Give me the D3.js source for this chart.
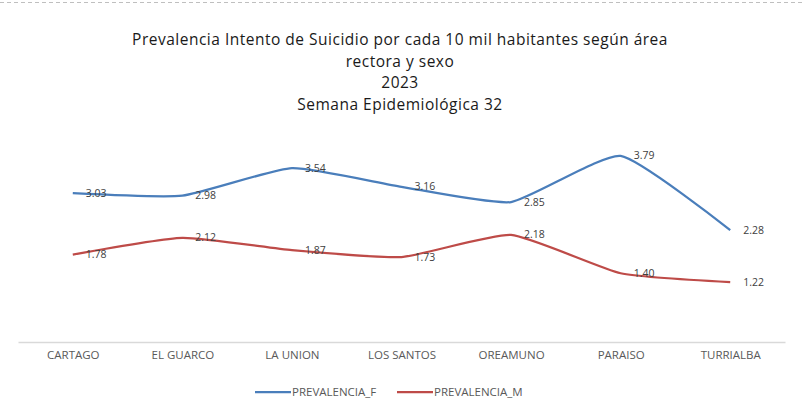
<!DOCTYPE html>
<html>
<head>
<meta charset="utf-8">
<script src="https://cdn.jsdelivr.net/npm/d3@7"></script>
<style>
  body { margin: 0; background: #fff; }
  text { font-family: "Open Sans", Lato, sans-serif; }
</style>
</head>
<body>
<div id="chart"></div>
<script>
// Data
var categories = ['CARTAGO', 'EL GUARCO', 'LA UNION', 'LOS SANTOS', 'OREAMUNO', 'PARAISO', 'TURRIALBA'];
var prevalenciaF = [3.03, 2.98, 3.54, 3.16, 2.85, 3.79, 2.28];
var prevalenciaM = [1.78, 2.12, 1.87, 1.73, 2.18, 1.40, 1.22];
var titleLines = ['Prevalencia Intento de Suicidio por cada 10 mil habitantes según área',
                  'rectora y sexo', '2023', 'Semana Epidemiológica 32'];

var width = 803, height = 416;
var margin = {top: 121, right: 18, bottom: 74, left: 18};

var series = [
    {name: 'PREVALENCIA_F', values: prevalenciaF, color: '#4a7ebb'},
    {name: 'PREVALENCIA_M', values: prevalenciaM, color: '#be4b48'}
];

var svg = d3.select('#chart').append('svg')
    .attr('width', width)
    .attr('height', height);

// dashed frame edge at top
svg.append('line')
    .attr('x1', 0).attr('x2', width)
    .attr('y1', 2.5).attr('y2', 2.5)
    .attr('stroke', '#bfbfbf')
    .attr('stroke-dasharray', '4,3');

// Title
svg.append('g').selectAll('text')
    .data(titleLines)
    .enter().append('text')
    .attr('x', 400)
    .attr('y', function(d, i) { return 45 + i * 21.5; })
    .attr('text-anchor', 'middle')
    .attr('font-size', 15.5)
    .attr('letter-spacing', 0.5)
    .attr('fill', '#1a1a1a')
    .text(function(d) { return d; });

var xScale = d3.scalePoint()
    .domain(categories)
    .range([margin.left, width - margin.right])
    .padding(0.5);

var yScale = d3.scaleLinear()
    .domain([0, 4.5])
    .range([height - margin.bottom, margin.top]);

// x axis
var xAxis = d3.axisBottom(xScale).tickSize(0).tickPadding(9);
var gx = svg.append('g')
    .attr('class', 'x-axis')
    .attr('transform', 'translate(0,' + yScale(0) + ')')
    .call(xAxis);
gx.select('.domain').attr('stroke', '#d9d9d9').attr('stroke-width', 1.5);
gx.selectAll('text')
    .attr('font-size', 11.5)
    .attr('fill', '#595959')
    .style('font-family', '"Open Sans", sans-serif');

var line = d3.line()
    .x(function(d, i) { return xScale(categories[i]); })
    .y(function(d) { return yScale(d); })
    .curve(d3.curveCardinal.tension(0.5));

var g = svg.append('g').attr('class', 'chart-g');

series.forEach(function(s) {
    g.append('path')
        .attr('d', line(s.values))
        .attr('fill', 'none')
        .attr('stroke', s.color)
        .attr('stroke-width', 2.25);

    g.selectAll('.lbl-' + s.name)
        .data(s.values)
        .enter().append('text')
        .attr('x', function(d, i) { return xScale(categories[i]) + 13; })
        .attr('y', function(d) { return yScale(d) + 3.5; })
        .attr('font-size', 10.5)
        .attr('fill', '#404040')
        .text(function(d) { return d.toFixed(2); });
});

// Legend
var legend = svg.append('g').attr('transform', 'translate(255,392)');
var items = legend.selectAll('g')
    .data(series)
    .enter().append('g')
    .attr('transform', function(d, i) { return 'translate(' + (i * 142) + ',0)'; });
items.append('line')
    .attr('x1', 0).attr('x2', 36)
    .attr('stroke', function(d) { return d.color; })
    .attr('stroke-width', 2.25);
items.append('text')
    .attr('x', 37)
    .attr('y', 4)
    .attr('font-size', 11.5)
    .attr('fill', '#595959')
    .style('font-family', '"Open Sans", sans-serif')
    .text(function(d) { return d.name; });
</script>
</body>
</html>
